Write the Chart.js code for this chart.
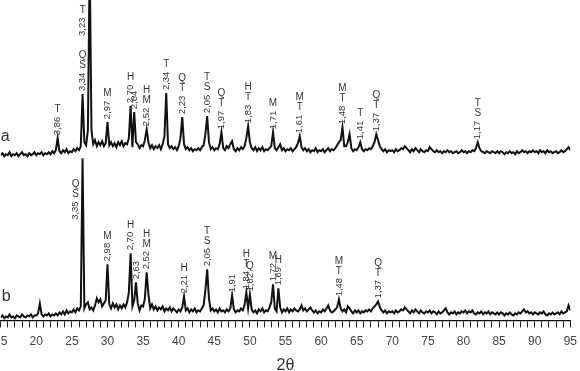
<!DOCTYPE html>
<html>
<head>
<meta charset="utf-8">
<script src="https://cdn.jsdelivr.net/npm/chart.js@4.4.1/dist/chart.umd.min.js"></script>
<style>
    html, body { margin: 0; padding: 0; background: #fff; width: 580px; height: 371px; overflow: hidden; }
    #xrdChart { position: absolute; left: -13px; top: 0; }
</style>
</head>
<body>
<canvas id="xrdChart" width="597" height="377"></canvas>
<script>
// ===============================
// Scan data (2θ from 15° in 0.25° steps, intensity in a.u.)
// ===============================
const SCAN_START = 15;
const SCAN_STEP = 0.25;
const OFFSET_A = 160; // vertical shift of pattern a

const intensityA = [
    5, 7, 4, 6, 5, 8, 4, 6, 5, 7, 4, 6, 8, 5, 6, 4, 7, 5, 6, 8,
    5, 7, 6, 8, 5, 7, 6, 8, 6, 9, 7, 10, 22, 9, 7, 10, 8, 11, 7, 9,
    8, 11, 9, 12, 10, 14, 66, 18, 15, 30, 200, 30, 16, 20, 14, 18, 15, 19, 14, 17,
    38, 15, 18, 14, 17, 13, 18, 15, 19, 14, 17, 16, 22, 54, 13, 48, 18, 16, 12, 15,
    14, 20, 31, 18, 12, 15, 11, 14, 12, 15, 11, 16, 24, 67, 16, 12, 14, 11, 13, 10,
    14, 22, 43, 16, 11, 13, 10, 12, 9, 11, 10, 12, 10, 13, 15, 26, 44, 18, 11, 13,
    10, 12, 11, 16, 28, 12, 10, 14, 12, 16, 19, 11, 9, 12, 10, 13, 11, 14, 22, 34,
    18, 12, 10, 13, 9, 12, 10, 13, 9, 11, 10, 12, 14, 28, 12, 10, 13, 16, 10, 12,
    9, 11, 10, 12, 9, 11, 13, 17, 24, 13, 10, 12, 9, 11, 8, 10, 9, 12, 8, 10,
    9, 11, 8, 10, 12, 9, 11, 10, 12, 15, 18, 20, 33, 14, 14, 18, 26, 12, 9, 11,
    10, 13, 18, 11, 9, 11, 10, 12, 11, 14, 18, 26, 20, 14, 11, 9, 11, 8, 10, 9,
    10, 8, 11, 9, 10, 12, 11, 14, 12, 10, 8, 11, 9, 12, 10, 8, 11, 9, 8, 10,
    9, 13, 11, 9, 8, 10, 8, 9, 7, 9, 8, 10, 8, 9, 7, 8, 9, 7, 8, 10,
    8, 9, 7, 9, 8, 10, 9, 12, 18, 12, 9, 8, 7, 9, 8, 7, 9, 8, 7, 9,
    7, 9, 8, 6, 8, 7, 9, 7, 8, 6, 9, 7, 8, 10, 8, 9, 7, 9, 8, 10,
    8, 9, 7, 10, 8, 9, 7, 10, 8, 9, 7, 8, 9, 7, 8, 10, 8, 9, 11, 13,
    10
];

const intensityB = [
    3, 5, 2, 4, 3, 6, 3, 4, 2, 5, 4, 3, 6, 4, 3, 5, 4, 6, 3, 5,
    5, 7, 17, 6, 4, 6, 5, 7, 4, 6, 5, 7, 5, 8, 6, 9, 6, 10, 7, 9,
    8, 11, 8, 12, 10, 14, 162, 12, 16, 18, 11, 13, 10, 15, 22, 18, 21, 14, 17, 20,
    56, 16, 12, 17, 13, 16, 11, 15, 12, 16, 13, 18, 28, 67, 14, 20, 38, 17, 10, 15,
    14, 22, 48, 26, 12, 16, 11, 14, 10, 13, 11, 14, 9, 12, 10, 13, 9, 12, 10, 8,
    11, 9, 13, 24, 10, 12, 8, 11, 9, 12, 8, 10, 9, 12, 15, 30, 51, 22, 10, 12,
    9, 11, 8, 12, 9, 10, 8, 11, 9, 12, 25, 11, 8, 10, 9, 12, 10, 15, 28, 12,
    26, 11, 8, 10, 7, 11, 9, 12, 8, 10, 9, 13, 18, 36, 12, 9, 32, 13, 8, 11,
    9, 12, 8, 11, 9, 12, 10, 9, 11, 15, 10, 12, 9, 11, 13, 10, 8, 10, 7, 9,
    8, 11, 9, 12, 15, 10, 8, 9, 11, 13, 21, 12, 9, 11, 8, 14, 12, 9, 7, 10,
    8, 10, 7, 9, 8, 10, 9, 11, 9, 12, 14, 16, 19, 13, 10, 8, 10, 7, 9, 8,
    9, 7, 10, 8, 9, 11, 10, 13, 11, 9, 7, 10, 8, 11, 9, 7, 10, 8, 7, 9,
    8, 10, 7, 9, 8, 6, 9, 7, 8, 10, 12, 8, 6, 8, 7, 9, 6, 8, 7, 9,
    8, 10, 7, 9, 8, 10, 7, 6, 8, 7, 9, 6, 8, 7, 9, 6, 8, 7, 6, 8,
    6, 8, 7, 5, 7, 6, 8, 6, 5, 7, 6, 8, 7, 9, 11, 8, 9, 7, 8, 6,
    8, 7, 6, 8, 7, 9, 6, 5, 7, 6, 8, 6, 7, 8, 6, 9, 7, 8, 9, 15,
    10
];

// ===============================
// Peak annotations (2θ, d-spacing, phases bottom -> top)
// ===============================
const peaksA  = [23.0, 26.5, 27.5, 30.0, 33.25, 33.75, 35.5, 38.25, 40.5, 44.0, 46.0, 49.75, 53.25, 57.0, 63.0, 65.5, 67.75, 82.0];
const dA      = ["3,86", "3,34", "3,23", "2,97", "2,70", "2,64", "2,52", "2,34", "2,23", "2,05", "1,97", "1,83", "1,71", "1,61", "1,48", "1,41", "1,37", "1,17"];
const phasesA = ["T", "SQ", "T", "M", "H", "", "MH", "T", "TQ", "ST", "TQ", "TH", "M", "TM", "TM", "T", "TQ", "ST"];

const peaksB  = [26.5, 30.0, 33.25, 34.0, 35.5, 40.75, 44.0, 47.5, 49.5, 50.0, 53.25, 54.0, 62.5, 68.0];
const dB      = ["3,35", "2,98", "2,70", "2,63", "2,52", "2,21", "2,05", "1,91", "1,84", "1,82", "1,72", "1,69", "1,48", "1,37"];
const phasesB = ["SQ", "M", "H", "", "MH", "H", "ST", "", "TH", "Q", "M", "H", "TM", "TQ"];

const xTicksMin = 15;
const xTicksMax = 95;

// ===============================
// Build datasets
// ===============================
function toPoints(values, offset) {
    return values.map((v, i) => ({ x: SCAN_START + i * SCAN_STEP, y: v + offset }));
}

const FONT = '"Liberation Sans", Arial, sans-serif';

// ===============================
// Plugin: peak labels + a / b tags
// ===============================
const peakLabels = {
    id: "peakLabels",
    afterDatasetsDraw(chart) {
        const { ctx, chartArea } = chart;
        const xs = chart.scales.x;
        const ys = chart.scales.y;

        function drawSet(peaks, dvals, phases, series, offset) {
            peaks.forEach((tth, k) => {
                const i = Math.round((tth - SCAN_START) / SCAN_STEP);
                const top = Math.max(series[i - 1], series[i], series[i + 1]);
                let px = xs.getPixelForValue(tth);
                let baseY = ys.getPixelForValue(top + offset) - 3;

                // very strong reflections: label sits beside the line
                if (top > 120) {
                    px -= 7;
                    baseY = ys.getPixelForValue(offset + top * 0.62);
                }

                ctx.save();
                ctx.fillStyle = "#333";
                ctx.font = "9.5px " + FONT;
                const w = ctx.measureText(dvals[k]).width;
                ctx.translate(px, baseY);
                ctx.rotate(-Math.PI / 2);
                ctx.textAlign = "left";
                ctx.textBaseline = "middle";
                ctx.fillText(dvals[k], 0, 0);
                ctx.restore();

                ctx.save();
                ctx.fillStyle = "#333";
                ctx.font = "10px " + FONT;
                ctx.textAlign = "center";
                ctx.textBaseline = "bottom";
                let yy = baseY - w - 2;
                for (const ch of phases[k]) {
                    ctx.fillText(ch, px, yy);
                    yy -= 10;
                }
                ctx.restore();
            });
        }

        drawSet(peaksA, dA, phasesA, intensityA, OFFSET_A);
        drawSet(peaksB, dB, phasesB, intensityB, 0);

        // pattern tags
        ctx.save();
        ctx.fillStyle = "#333";
        ctx.font = "16px " + FONT;
        ctx.textAlign = "left";
        ctx.textBaseline = "middle";
        ctx.fillText("a", chartArea.left, ys.getPixelForValue(OFFSET_A + 24));
        ctx.fillText("b", chartArea.left + 1, ys.getPixelForValue(24));
        ctx.restore();
    }
};

// ===============================
// Chart
// ===============================
const canvas = document.getElementById("xrdChart");
const xrdChart = new Chart(canvas.getContext("2d"), {
    type: "line",
    data: {
        datasets: [
            {
                label: "a",
                data: toPoints(intensityA, OFFSET_A),
                borderColor: "#111",
                borderWidth: 2,
                pointRadius: 0,
                tension: 0
            },
            {
                label: "b",
                data: toPoints(intensityB, 0),
                borderColor: "#111",
                borderWidth: 2,
                pointRadius: 0,
                tension: 0
            }
        ]
    },
    options: {
        responsive: false,
        animation: false,
        layout: { padding: 0 },
        plugins: {
            legend: { display: false },
            tooltip: { enabled: false }
        },
        scales: {
            x: {
                type: "linear",
                min: xTicksMin,
                max: xTicksMax,
                border: { display: true, color: "#111", width: 1.3 },
                grid: { drawOnChartArea: false, drawTicks: true, tickLength: 7, color: "#222" },
                ticks: {
                    stepSize: 1,
                    autoSkip: false,
                    maxRotation: 0,
                    maxTicksLimit: 200,
                    padding: 7,
                    color: "#444",
                    font: { family: FONT, size: 12 },
                    callback: (v) => (v % 5 === 0 ? String(v) : "")
                },
                title: {
                    display: true,
                    text: "2θ",
                    color: "#333",
                    font: { family: FONT, size: 16 },
                    padding: { top: 0, bottom: 2 }
                }
            },
            y: {
                display: false,
                min: 0,
                max: 320
            }
        }
    },
    plugins: [peakLabels]
});
</script>
</body>
</html>
